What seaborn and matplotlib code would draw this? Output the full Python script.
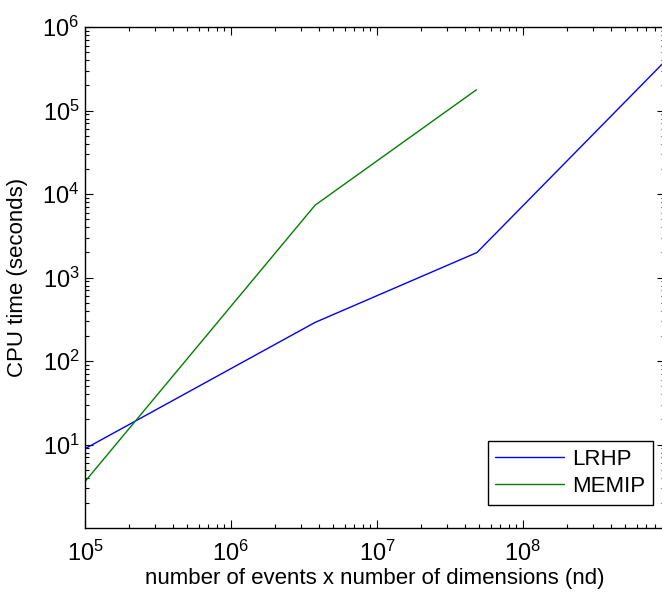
import numpy as np
import pandas as pd
import matplotlib
matplotlib.use("Agg")
import matplotlib.pyplot as plt
import seaborn as sns

# values (log-log)
nd_lrhp = [1e5, 3.77e6, 4.84e7, 9.0e8]
cpu_lrhp = [8.9, 290, 1990, 3.6e5]
nd_memip = [1e5, 3.77e6, 4.8e7]
cpu_memip = [3.6, 7350, 1.77e5]
methods = ["LRHP", "MEMIP"]
colors = ["#0000ff", "#008000"]

df = pd.concat([
    pd.DataFrame({"nd": nd_lrhp, "cpu": cpu_lrhp, "method": methods[0]}),
    pd.DataFrame({"nd": nd_memip, "cpu": cpu_memip, "method": methods[1]}),
])

sns.set_style("ticks")
plt.rcParams["font.family"] = ["Liberation Sans", "DejaVu Sans"]
plt.rcParams["mathtext.fontset"] = "custom"
plt.rcParams["mathtext.rm"] = "Liberation Sans"
plt.rcParams["mathtext.it"] = "Liberation Sans"
plt.rcParams["text.color"] = "black"
plt.rcParams["axes.labelcolor"] = "black"
plt.rcParams["xtick.color"] = "black"
plt.rcParams["ytick.color"] = "black"
plt.rcParams["axes.edgecolor"] = "black"

fig = plt.figure(figsize=(6.62, 5.96), dpi=100)
W, H = 662, 596
ax = fig.add_axes([85 / W, 1 - 528 / H, (665 - 85) / W, (528 - 27) / H])

sns.lineplot(data=df, x="nd", y="cpu", hue="method", palette=colors,
             hue_order=methods, ax=ax, linewidth=1.0, sort=False,
             estimator=None)

ax.set_xscale("log")
ax.set_yscale("log")
xmax = 10 ** (8 + (665 - 523) / 145.9)
ax.set_xlim(1e5, xmax)
ax.set_ylim(1, 1e6)
ax.set_xticks([1e5, 1e6, 1e7, 1e8])
ax.set_yticks([1e1, 1e2, 1e3, 1e4, 1e5, 1e6])
ax.set_xticklabels([r"$10^{5}$", r"$10^{6}$", r"$10^{7}$", r"$10^{8}$"])
ax.set_yticklabels([r"$10^{1}$", r"$10^{2}$", r"$10^{3}$", r"$10^{4}$",
                    r"$10^{5}$", r"$10^{6}$"])
ax.tick_params(which="both", direction="in", top=True, right=True,
               labelsize=17, width=0.8)
ax.tick_params(which="major", length=6)
ax.tick_params(axis="x", which="major", pad=9)
ax.tick_params(axis="y", which="major", pad=4)
ax.tick_params(which="minor", length=3)
for s in ax.spines.values():
    s.set_linewidth(1.0)

ax.set_xlabel("number of events x number of dimensions (nd)", fontsize=16,
              labelpad=2)
ax.set_ylabel("CPU time (seconds)", fontsize=16, labelpad=10)

leg = ax.legend(loc="lower right", bbox_to_anchor=((653 - 85) / (665 - 85), 23 / 501),
                borderaxespad=0, fontsize=16, frameon=True, fancybox=False,
                handlelength=3.1, handletextpad=0.35, borderpad=0.35,
                labelspacing=0.3)
leg.get_frame().set_edgecolor("black")
leg.get_frame().set_linewidth(1.0)
leg.get_frame().set_alpha(1)
leg.set_title(None)

fig.savefig("out.png", dpi=100)
